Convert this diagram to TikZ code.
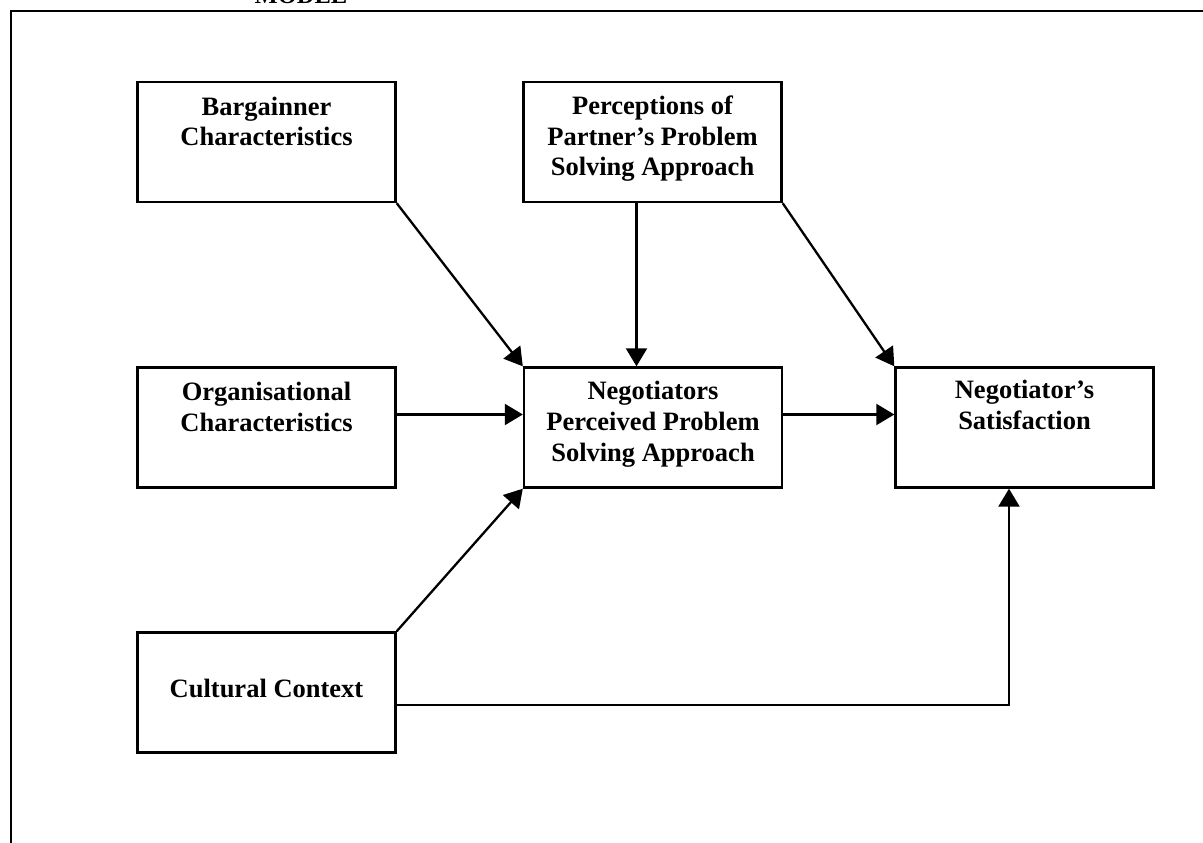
\documentclass[tikz,border=0pt]{standalone}
\usepackage{fontspec}
\setmainfont{Liberation Serif}
\usetikzlibrary{arrows.meta,calc}
\newcommand{\bxt}[2]{\parbox[c][120pt][t]{258pt}{\centering\rule{0pt}{#1pt}#2}}
\begin{document}
\begin{tikzpicture}[x=1pt,y=-1pt,
  boxnode/.style={draw, line width=2.4pt, inner sep=0pt, minimum width=258pt, minimum height=120pt,
    font=\fontsize{26.5}{31}\bfseries\selectfont},
  arr/.style={line width=2.3pt, -{Triangle[length=18pt,width=21pt]}},
  plainline/.style={line width=2.4pt}]
\useasboundingbox (0,0) rectangle (1203,843);
\clip (0,0) rectangle (1203,843);
% frame
\draw[plainline] (11,843) -- (11,11) -- (1203,11);
\node[font=\fontsize{24.5}{28}\bfseries\selectfont, anchor=base, inner sep=0pt] (model) at (301,4) {MODEL};
% boxes
\node[boxnode] (barg) at (266.5,142) {\bxt{33}{Bargainner\\Characteristics}};
\node[boxnode] (perc) at (652.5,142) {\bxt{32}{Perceptions of\\Partner’s Problem\\Solving Approach}};
\node[boxnode] (org)  at (266.5,427.5) {\bxt{33}{Organisational\\Characteristics}};
\node[boxnode] (neg)  at (653,427.5) {\bxt{32}{Negotiators\\Perceived Problem\\Solving Approach}};
\node[boxnode] (sat)  at (1024.5,427.5) {\bxt{31}{Negotiator’s\\Satisfaction}};
\node[boxnode] (cult) at (266.5,692.5) {\bxt{65}{Cultural Context}};
% connectors
\draw[arr] (barg.south east) -- (neg.north west);
\draw[arr] ([xshift=-16pt]perc.south) -- ([xshift=-16pt]perc.south |- neg.north);
\draw[arr] (perc.south east) -- (sat.north west);
\draw[arr] ([yshift=13pt]org.east) -- ([yshift=13pt]neg.west);
\draw[arr] ([yshift=13pt]neg.east) -- ([yshift=13pt]sat.west);
\draw[arr] (cult.north east) -- (neg.south west);
\coordinate (cc) at ([xshift=-15.5pt]sat.south);
\draw[arr] ([yshift=-12.5pt]cult.east) -| (cc);
\end{tikzpicture}
\end{document}
